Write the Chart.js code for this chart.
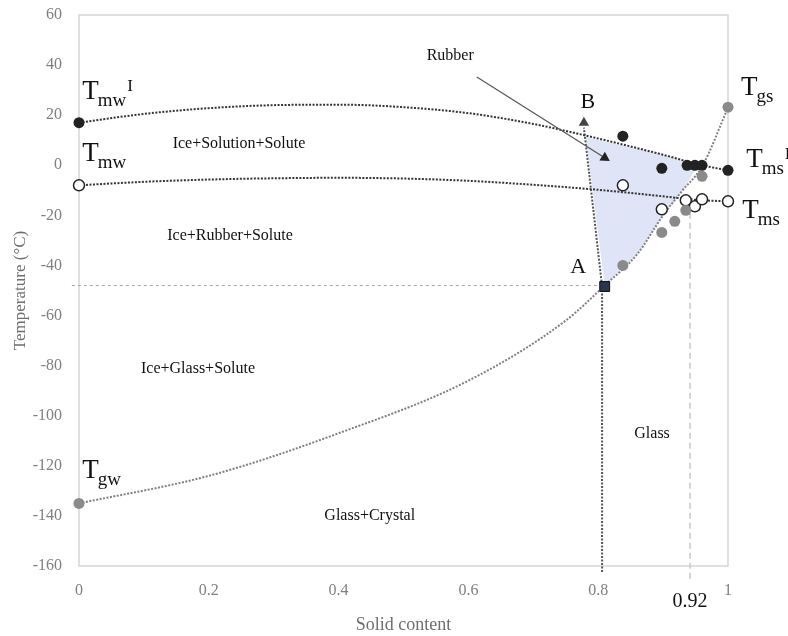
<!DOCTYPE html>
<html lang="en">
<head>
  <meta charset="UTF-8" />
  <title>State diagram</title>
  <script src="https://cdn.jsdelivr.net/npm/chart.js"></script>
  <style>
    html, body { margin: 0; padding: 0; background: #ffffff; }
    #wrap { width: 788px; height: 636px; position: relative; }
  </style>
</head>
<body>
  <div id="wrap"><canvas id="chart"></canvas></div>

  <script>
    // tick values
    const xTickValues = [0, 0.2, 0.4, 0.6, 0.8, 1];
    const yTickValues = [-160, -140, -120, -100, -80, -60, -40, -20, 0, 20, 40, 60];

    // melting curve with ice (Tmw^I -> Tms^I)
    const tmwIceX = [0, 0.1, 0.2, 0.3, 0.4, 0.5, 0.6, 0.7, 0.79, 0.9, 0.96, 1];
    const tmwIceY = [17, 20.5, 22.8, 24, 24.2, 23.2, 20.8, 16.5, 11.3, 4.2, 0, -2];

    // melting curve (Tmw -> Tms)
    const tmwX = [0, 0.1, 0.2, 0.3, 0.4, 0.5, 0.6, 0.7, 0.8, 0.9, 0.95, 1];
    const tmwY = [-8, -6.6, -5.7, -5.2, -5, -5.3, -6.2, -7.8, -9.8, -12.4, -13.8, -14.4];

    // glass transition curve (Tgw -> A -> Tgs)
    const tgX = [0, 0.2, 0.4, 0.6, 0.75, 0.81, 0.86, 0.9, 0.93, 0.96, 1];
    const tgY = [-135, -124, -107, -86, -62, -48, -35.5, -20, -10, -0.5, 23];

    // rubber zone outline
    const rubberX = [0.81, 0.781, 0.85, 0.9, 0.955, 0.93, 0.9, 0.86, 0.81];
    const rubberY = [-48, 11.2, 7.2, 4.2, 0.3, -10, -20, -35.5, -48];

    // measured points
    const blackX = [0, 0.838, 0.898, 0.937, 0.949, 0.96, 1];
    const blackY = [17, 11.6, -1.2, 0, 0, 0, -2];
    const openX = [0, 0.838, 0.898, 0.935, 0.949, 0.96, 1];
    const openY = [-8, -8, -17.6, -14, -16.4, -13.6, -14.4];
    const grayX = [0, 1, 0.96, 0.935, 0.918, 0.898, 0.838];
    const grayY = [-135, 23.2, -4.4, -18, -22.4, -26.8, -40];

    // point A, point B, guide lines
    const pointA = [0.81, -48.4];
    const abLineX = [0.806, 0.806, 0.778];
    const abLineY = [-162.4, -48.4, 15];
    const pointB = [0.778, 17];
    const hLineX = [-0.011, 0.806];
    const hLineY = [-48, -48];
    const wLineX = [0.9415, 0.9415];
    const wLineY = [-19, -166.4];
    const arrowX = [0.613, 0.81];
    const arrowY = [35.2, 3];

    const zip = (xs, ys) => xs.map((x, i) => ({ x: x, y: ys[i] }));

    const serif = "'Liberation Serif', 'Times New Roman', serif";

    // plain annotations: text, x, y, size
    const notes = [
      ["Rubber", 0.572, 43.6, 16],
      ["B", 0.784, 25.2, 22],
      ["A", 0.769, -40.8, 22],
      ["Ice+Solution+Solute", 0.2465, 8.4, 16],
      ["Ice+Rubber+Solute", 0.2327, -28, 16],
      ["Ice+Glass+Solute", 0.1834, -81.2, 16],
      ["Glass", 0.883, -107.2, 16],
      ["Glass+Crystal", 0.448, -140, 16],
      ["0.92", 0.9415, -174.4, 20]
    ];
    // symbol labels: main, sub, sup, x (left), y (baseline)
    const symbols = [
      ["T", "mw", "I", 0.005, 26.4],
      ["T", "mw", "", 0.005, 1.6],
      ["T", "gw", "", 0.005, -124.8],
      ["T", "gs", "", 1.02, 28],
      ["T", "ms", "I", 1.028, -0.8],
      ["T", "ms", "", 1.022, -21.2]
    ];

    const boxPlugin = {
      id: "box",
      beforeDatasetsDraw(chart) {
        const a = chart.chartArea;
        const c = chart.ctx;
        c.save();
        c.strokeStyle = "#d6d6d6";
        c.lineWidth = 1.5;
        c.strokeRect(a.left, a.top, a.right - a.left, a.bottom - a.top);
        c.restore();
      }
    };

    const textPlugin = {
      id: "texts",
      afterDraw(chart) {
        const c = chart.ctx;
        const sx = chart.scales.x, sy = chart.scales.y;
        c.save();
        c.fillStyle = "#111";
        c.textAlign = "center";
        c.textBaseline = "middle";
        notes.forEach(n => {
          c.font = n[3] + "px " + serif;
          c.fillText(n[0], sx.getPixelForValue(n[1]), sy.getPixelForValue(n[2]));
        });
        c.textAlign = "left";
        c.textBaseline = "alphabetic";
        symbols.forEach(s => {
          let x = sx.getPixelForValue(s[3]);
          const y = sy.getPixelForValue(s[4]);
          c.font = "27px " + serif;
          c.fillText(s[0], x, y);
          x += c.measureText(s[0]).width - 1;
          c.font = "19px " + serif;
          c.fillText(s[1], x, y + 7);
          x += c.measureText(s[1]).width + 1;
          if (s[2]) {
            c.font = "17px " + serif;
            c.fillText(s[2], x, y - 8);
          }
        });
        c.restore();
      }
    };

    const ctx = document.getElementById("chart").getContext("2d");
    new Chart(ctx, {
      type: "scatter",
      data: {
        datasets: [
          {
            data: zip(rubberX, rubberY), showLine: true, fill: "shape",
            backgroundColor: "#dfe5f6", borderWidth: 0, pointRadius: 0, order: 10
          },
          {
            data: zip(tmwIceX, tmwIceY), showLine: true, borderColor: "#333",
            borderWidth: 2, borderDash: [2, 1.5], pointRadius: 0,
            cubicInterpolationMode: "monotone", order: 5
          },
          {
            data: zip(tmwX, tmwY), showLine: true, borderColor: "#333",
            borderWidth: 2, borderDash: [2, 1.5], pointRadius: 0,
            cubicInterpolationMode: "monotone", order: 5
          },
          {
            data: zip(tgX, tgY), showLine: true, borderColor: "#808080",
            borderWidth: 2, borderDash: [2, 1.5], pointRadius: 0,
            cubicInterpolationMode: "monotone", order: 5
          },
          {
            data: zip(abLineX, abLineY), showLine: true, borderColor: "#555",
            borderWidth: 2, borderDash: [2, 1.5], pointRadius: 0, clip: false, order: 5
          },
          {
            data: zip(hLineX, hLineY), showLine: true, borderColor: "#a8a8a8",
            borderWidth: 1, borderDash: [3, 3], pointRadius: 0, clip: false, order: 5
          },
          {
            data: zip(wLineX, wLineY), showLine: true, borderColor: "#c8c8c8",
            borderWidth: 1.5, borderDash: [6, 4], pointRadius: 0, clip: false, order: 5
          },
          {
            data: zip(arrowX, arrowY), showLine: true, borderColor: "#555",
            borderWidth: 1.2, pointRadius: [0, 6], pointStyle: "triangle",
            pointRotation: 122, backgroundColor: "#222", pointBorderWidth: 0, order: 4
          },
          {
            data: [{ x: pointB[0], y: pointB[1] }], pointStyle: "triangle",
            pointRadius: 6, backgroundColor: "#444", borderWidth: 0, order: 1
          },
          {
            data: zip(grayX, grayY), pointRadius: 5.5, backgroundColor: "#8a8a8a",
            borderWidth: 0, clip: false, order: 1
          },
          {
            data: zip(blackX, blackY), pointRadius: 5.5, backgroundColor: "#222",
            borderWidth: 0, clip: false, order: 1
          },
          {
            data: zip(openX, openY), pointRadius: 5.5, backgroundColor: "#ffffff",
            borderColor: "#222", borderWidth: 1.5, clip: false, order: 1
          },
          {
            data: [{ x: pointA[0], y: pointA[1] }], pointStyle: "rect", pointRadius: 7,
            backgroundColor: "#2b3550", borderColor: "#111", borderWidth: 1, order: 0
          }
        ]
      },
      options: {
        responsive: true,
        maintainAspectRatio: false,
        animation: false,
        events: [],
        layout: { padding: { top: 15, right: 60, left: 0, bottom: 0 } },
        plugins: { legend: { display: false }, tooltip: { enabled: false } },
        scales: {
          x: {
            type: "linear", min: 0, max: 1,
            grid: { display: false, drawTicks: false },
            border: { display: false },
            afterBuildTicks: s => { s.ticks = xTickValues.map(v => ({ value: v })); },
            afterFit: s => { s.height = 70; s.paddingLeft = 0; s.paddingRight = 0; },
            ticks: {
              padding: 15, color: "#7f7f7f", font: { family: serif, size: 16 },
              callback: v => String(Math.round(v * 10) / 10)
            },
            title: {
              display: true, text: "Solid content", color: "#6f6f6f",
              font: { family: serif, size: 18 }, padding: { top: 0, bottom: 0 }
            }
          },
          y: {
            type: "linear", min: -160, max: 60,
            grid: { display: false, drawTicks: false },
            border: { display: false },
            afterBuildTicks: s => { s.ticks = yTickValues.map(v => ({ value: v })); },
            afterFit: s => { s.width = 79; s.paddingTop = 0; s.paddingBottom = 0; },
            ticks: { padding: 17, color: "#7f7f7f", font: { family: serif, size: 16 } },
            title: {
              display: true, text: "Temperature (°C)", color: "#6f6f6f",
              font: { family: serif, size: 17 }, padding: { top: 10, bottom: 0 }
            }
          }
        }
      },
      plugins: [boxPlugin, textPlugin]
    });
  </script>
</body>
</html>
